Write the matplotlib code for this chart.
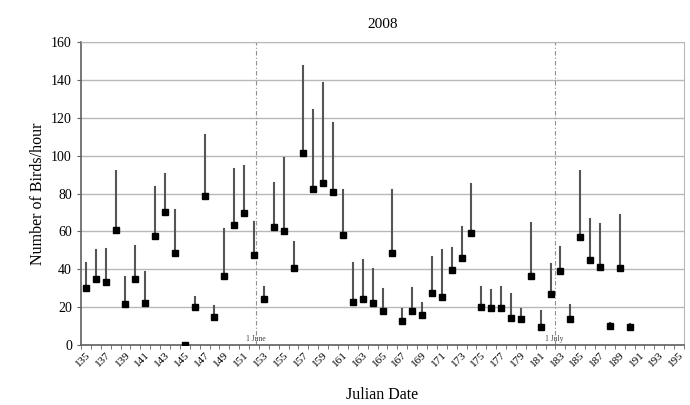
import matplotlib.pyplot as plt
from matplotlib.ticker import MultipleLocator

# Julian days with counts and the upper end of each bar
days = list(range(135, 191))
birds = [30.0, 35.0, 33.3, 60.8, 21.8, 34.7, 22.0, 57.6, 70.3, 48.8,
         0.0, 19.9, 78.9, 15.0, 36.6, 63.6, 69.8, 47.4, 24.3, 62.4,
         60.1, 40.5, 101.3, 82.5, 85.5, 81.0, 58.1, 22.7, 24.3, 22.4,
         18.0, 48.8, 12.7, 18.1, 16.0, 27.5, 25.5, 39.6, 45.8, 59.2,
         19.9, 19.6, 19.6, 14.1, 13.6, 36.6, 9.7, 26.8, 39.3, 13.6,
         57.3, 45.1, 41.2, 10.0, 40.9, 9.3]
upper = [43.2, 50.2, 50.7, 92.1, 36.1, 52.3, 38.8, 83.7, 90.4, 71.4,
         0.0, 25.5, 111.0, 20.6, 61.5, 92.8, 94.3, 65.0, 30.8, 85.5,
         99.0, 54.6, 147.1, 124.2, 138.6, 117.2, 81.9, 43.2, 44.9, 40.0,
         29.4, 81.9, 18.9, 30.0, 22.4, 46.7, 50.2, 51.1, 62.2, 84.9,
         30.8, 29.1, 30.8, 27.0, 18.9, 64.3, 18.1, 42.6, 52.0, 21.0,
         92.1, 66.4, 64.0, 11.8, 68.6, 11.1]

tick_days = list(range(135, 196, 2))
month_marks = [152.2, 182.4]
month_labels = ["1 June", "1 July"]

plt.rcParams["font.family"] = ["Liberation Serif", "DejaVu Serif"]

fig = plt.figure(figsize=(6.9, 4.05), dpi=100)
ax = fig.add_axes([0.1174, 0.1481, 0.8739, 0.7482])

ax.set_xlim(134.5, 195.5)
ax.set_ylim(0, 160)

ax.yaxis.set_major_locator(MultipleLocator(20))
ax.grid(axis="y", color="#b8b8b8", linewidth=1.0)
ax.set_axisbelow(True)

for d, lo, hi in zip(days, birds, upper):
    if hi > lo:
        ax.plot([d, d], [lo, hi], color="#555555", linewidth=1.5, zorder=2)
ax.plot(days, birds, linestyle="none", marker="s", markersize=3.8,
        color="black", zorder=3)

for xm, lab in zip(month_marks, month_labels):
    ax.axvline(xm, color="#909090", linewidth=0.8, linestyle=(0, (4, 2, 1, 2)),
               zorder=1)
    ax.text(xm, 1.0, lab, fontsize=5.5, ha="center", va="bottom", color="#404040")

ax.set_xticks(tick_days)
ax.set_xticklabels([str(t) for t in tick_days], rotation=45, ha="right",
                   rotation_mode="anchor", fontsize=8)
ax.set_xticks([d + 0.5 for d in range(134, 196)], minor=True)
ax.tick_params(axis="x", which="major", length=0, pad=4)
ax.tick_params(axis="x", which="minor", length=3, color="#606060", direction="out")
ax.tick_params(axis="y", labelsize=10, length=3, color="#606060")

for side in ["top", "right"]:
    ax.spines[side].set_color("#b8b8b8")
for side in ["left", "bottom"]:
    ax.spines[side].set_color("#606060")
    ax.spines[side].set_linewidth(1.2)

ax.set_title("2008", fontsize=11, pad=10)
ax.set_xlabel("Julian Date", fontsize=11.5, labelpad=13)
ax.set_ylabel("Number of Birds/hour", fontsize=11.5, labelpad=4)

fig.savefig("out.png", dpi=100)
